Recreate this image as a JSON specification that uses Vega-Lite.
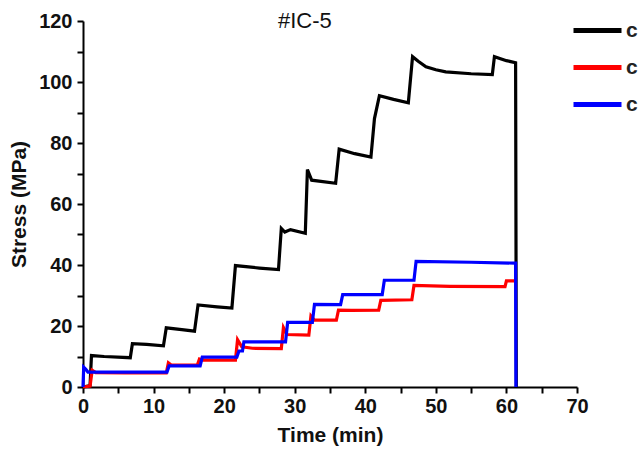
{
  "$schema": "https://vega.github.io/schema/vega-lite/v6.json",
  "autosize": "none",
  "width": 494,
  "height": 366,
  "padding": {"left": 83, "top": 21, "right": 62, "bottom": 65},
  "background": "white",
  "config": {
    "view": {"stroke": null},
    "font": "Liberation Sans"
  },
  "title": {
    "text": "#IC-5",
    "anchor": "start",
    "frame": "group",
    "dx": 195,
    "offset": 0,
    "dy": 29,
    "fontSize": 22,
    "fontWeight": "normal",
    "font": "Liberation Sans",
    "color": "#111"
  },
  "data": {
    "values": [
      {"t": 0, "v": 0, "s": "c1"},
      {"t": 1.0, "v": 0.5, "s": "c1"},
      {"t": 1.2, "v": 10.3, "s": "c1"},
      {"t": 3, "v": 10.0, "s": "c1"},
      {"t": 6.7, "v": 9.6, "s": "c1"},
      {"t": 7.0, "v": 14.2, "s": "c1"},
      {"t": 9, "v": 14.0, "s": "c1"},
      {"t": 11.4, "v": 13.5, "s": "c1"},
      {"t": 11.8, "v": 19.4, "s": "c1"},
      {"t": 14, "v": 18.8, "s": "c1"},
      {"t": 15.8, "v": 18.3, "s": "c1"},
      {"t": 16.3, "v": 26.9, "s": "c1"},
      {"t": 19, "v": 26.3, "s": "c1"},
      {"t": 21.1, "v": 25.9, "s": "c1"},
      {"t": 21.6, "v": 39.8, "s": "c1"},
      {"t": 25, "v": 39.0, "s": "c1"},
      {"t": 27.7, "v": 38.5, "s": "c1"},
      {"t": 28.1, "v": 52.0, "s": "c1"},
      {"t": 28.6, "v": 50.8, "s": "c1"},
      {"t": 29.4, "v": 51.6, "s": "c1"},
      {"t": 31.5, "v": 50.4, "s": "c1"},
      {"t": 31.8, "v": 71.3, "s": "c1"},
      {"t": 32.4, "v": 67.8, "s": "c1"},
      {"t": 35.8, "v": 66.8, "s": "c1"},
      {"t": 36.3, "v": 78.0, "s": "c1"},
      {"t": 38.5, "v": 76.5, "s": "c1"},
      {"t": 40.8, "v": 75.4, "s": "c1"},
      {"t": 41.3, "v": 88.0, "s": "c1"},
      {"t": 42.0, "v": 95.5, "s": "c1"},
      {"t": 44, "v": 94.3, "s": "c1"},
      {"t": 46.1, "v": 93.2, "s": "c1"},
      {"t": 46.7, "v": 108.3, "s": "c1"},
      {"t": 47.5, "v": 106.8, "s": "c1"},
      {"t": 48.6, "v": 105.0, "s": "c1"},
      {"t": 50, "v": 104.0, "s": "c1"},
      {"t": 51.4, "v": 103.3, "s": "c1"},
      {"t": 55, "v": 102.7, "s": "c1"},
      {"t": 58.0, "v": 102.4, "s": "c1"},
      {"t": 58.3, "v": 108.3, "s": "c1"},
      {"t": 60, "v": 107.0, "s": "c1"},
      {"t": 61.3, "v": 106.3, "s": "c1"},
      {"t": 61.4, "v": 0, "s": "c1"},
      {"t": 0, "v": 0, "s": "c2"},
      {"t": 1.0, "v": 0.3, "s": "c2"},
      {"t": 1.3, "v": 5.5, "s": "c2"},
      {"t": 1.8, "v": 4.7, "s": "c2"},
      {"t": 6, "v": 4.6, "s": "c2"},
      {"t": 11.8, "v": 4.6, "s": "c2"},
      {"t": 12.1, "v": 7.9, "s": "c2"},
      {"t": 12.5, "v": 7.2, "s": "c2"},
      {"t": 16.2, "v": 7.2, "s": "c2"},
      {"t": 16.5, "v": 9.2, "s": "c2"},
      {"t": 17, "v": 8.8, "s": "c2"},
      {"t": 21.6, "v": 8.8, "s": "c2"},
      {"t": 21.9, "v": 15.5, "s": "c2"},
      {"t": 22.5, "v": 13.2, "s": "c2"},
      {"t": 24, "v": 12.7, "s": "c2"},
      {"t": 28.1, "v": 12.6, "s": "c2"},
      {"t": 28.4, "v": 19.5, "s": "c2"},
      {"t": 28.9, "v": 17.2, "s": "c2"},
      {"t": 32.0, "v": 17.0, "s": "c2"},
      {"t": 32.3, "v": 23.3, "s": "c2"},
      {"t": 32.8, "v": 21.9, "s": "c2"},
      {"t": 35.9, "v": 21.9, "s": "c2"},
      {"t": 36.2, "v": 25.2, "s": "c2"},
      {"t": 38, "v": 25.1, "s": "c2"},
      {"t": 41.9, "v": 25.2, "s": "c2"},
      {"t": 42.2, "v": 28.4, "s": "c2"},
      {"t": 46.6, "v": 28.6, "s": "c2"},
      {"t": 46.9, "v": 33.3, "s": "c2"},
      {"t": 52, "v": 33.0, "s": "c2"},
      {"t": 59.8, "v": 32.9, "s": "c2"},
      {"t": 60.0, "v": 34.8, "s": "c2"},
      {"t": 61.4, "v": 34.8, "s": "c2"},
      {"t": 0, "v": 0, "s": "c3"},
      {"t": 0.1, "v": 6.5, "s": "c3"},
      {"t": 0.4, "v": 5.8, "s": "c3"},
      {"t": 0.7, "v": 4.9, "s": "c3"},
      {"t": 11.9, "v": 4.9, "s": "c3"},
      {"t": 12.2, "v": 6.9, "s": "c3"},
      {"t": 16.6, "v": 6.9, "s": "c3"},
      {"t": 16.9, "v": 9.8, "s": "c3"},
      {"t": 21.8, "v": 9.8, "s": "c3"},
      {"t": 22.1, "v": 11.8, "s": "c3"},
      {"t": 22.6, "v": 11.8, "s": "c3"},
      {"t": 22.8, "v": 14.8, "s": "c3"},
      {"t": 28.7, "v": 14.8, "s": "c3"},
      {"t": 29.0, "v": 21.2, "s": "c3"},
      {"t": 32.5, "v": 21.2, "s": "c3"},
      {"t": 32.8, "v": 27.1, "s": "c3"},
      {"t": 36.5, "v": 27.0, "s": "c3"},
      {"t": 36.8, "v": 30.3, "s": "c3"},
      {"t": 42.4, "v": 30.3, "s": "c3"},
      {"t": 42.7, "v": 35.0, "s": "c3"},
      {"t": 46.9, "v": 35.0, "s": "c3"},
      {"t": 47.2, "v": 41.2, "s": "c3"},
      {"t": 55, "v": 40.9, "s": "c3"},
      {"t": 61.3, "v": 40.6, "s": "c3"},
      {"t": 61.35, "v": 0, "s": "c3"}
    ]
  },
  "mark": {"type": "line", "strokeWidth": 3.2, "strokeJoin": "miter", "clip": false},
  "encoding": {
    "x": {
      "field": "t",
      "type": "quantitative",
      "scale": {"domain": [0, 70], "nice": false, "zero": false},
      "axis": {
        "title": "Time (min)",
        "values": [0, 5, 10, 15, 20, 25, 30, 35, 40, 45, 50, 55, 60, 65, 70],
        "labelExpr": "datum.value % 10 === 0 ? datum.label : ''",
        "grid": false,
        "domainColor": "#000",
        "domainWidth": 2,
        "tickColor": "#000",
        "tickWidth": 2,
        "tickSize": 6,
        "labelFont": "Liberation Sans",
        "labelFontSize": 20,
        "labelFontWeight": "bold",
        "labelColor": "#111",
        "labelPadding": 3,
        "labelFlush": false,
        "labelOverlap": false,
        "titleFont": "Liberation Sans",
        "titleFontSize": 21,
        "titleFontWeight": "bold",
        "titleColor": "#111",
        "titlePadding": 8
      }
    },
    "y": {
      "field": "v",
      "type": "quantitative",
      "scale": {"domain": [0, 120], "nice": false},
      "axis": {
        "title": "Stress (MPa)",
        "values": [0, 10, 20, 30, 40, 50, 60, 70, 80, 90, 100, 110, 120],
        "labelExpr": "datum.value % 20 === 0 ? datum.label : ''",
        "grid": false,
        "domainColor": "#000",
        "domainWidth": 2,
        "tickColor": "#000",
        "tickWidth": 2,
        "tickSize": 6,
        "labelFont": "Liberation Sans",
        "labelFontSize": 20,
        "labelFontWeight": "bold",
        "labelColor": "#111",
        "labelPadding": 5,
        "labelFlush": false,
        "labelOverlap": false,
        "titleFont": "Liberation Sans",
        "titleFontSize": 21,
        "titleFontWeight": "bold",
        "titleColor": "#111",
        "titlePadding": 9
      }
    },
    "color": {
      "field": "s",
      "type": "nominal",
      "scale": {"domain": ["c1", "c2", "c3"], "range": ["#000000", "#ff0000", "#0000ff"]},
      "legend": {
        "title": null,
        "orient": "none",
        "legendX": 488,
        "legendY": -17,
        "symbolType": "stroke",
        "symbolSize": 2304,
        "symbolStrokeWidth": 5,
        "labelExpr": "'c'",
        "labelFont": "Liberation Sans",
        "labelFontSize": 21,
        "labelFontWeight": "bold",
        "labelColor": "#222",
        "labelOffset": 2,
        "rowPadding": -13
      }
    }
  }
}
